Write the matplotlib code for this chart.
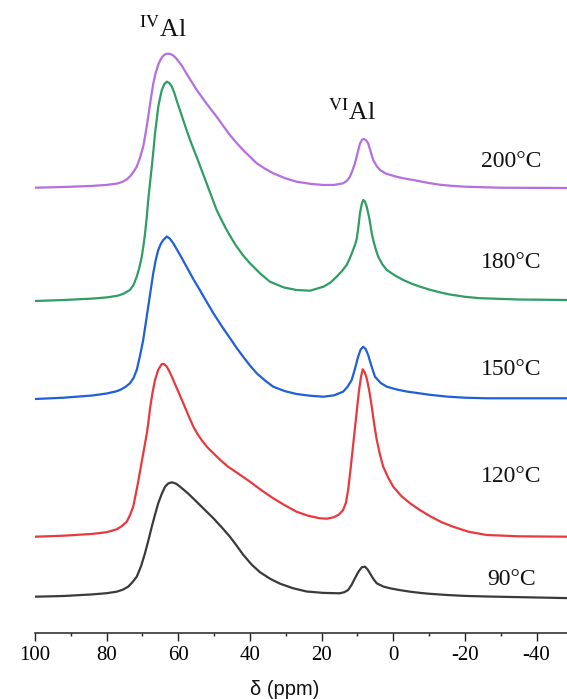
import matplotlib
matplotlib.use("Agg")
import matplotlib.pyplot as plt
from matplotlib.ticker import MultipleLocator

plt.rcParams['mathtext.fontset'] = 'stix'

# ---------------- data ----------------
temperatures = ["90°C", "120°C", "150°C", "180°C", "200°C"]
colors = ["#3a3a3a", "#e8393f", "#1f5fd8", "#2f9e62", "#b46fe0"]
offsets = [36.3, 96.3, 234.0, 332.0, 445.3]

ppm_90 = [100, 92, 84, 80, 77.2, 75.5, 74.0, 72.8, 71.6, 70.4, 69.3, 68.3, 67.4, 66.5,
          65.6, 64.6, 63.7, 62.8, 61.8, 60.6, 59.5, 57.2, 54.9, 52.5, 50.2, 47.9, 45.6,
          43.8, 41.9, 39.5, 37.2, 34.4, 31.6, 28, 24.2, 19.5, 14.9, 13.6, 12.6, 11.6,
          10.7, 9.7, 8.8, 7.9, 7.2, 6.5, 5.5, 4.6, 2.8, 0.9, -2, -4.7, -7.5, -10.2,
          -15, -20, -26.1, -48.5]
int_90 = [0, 0.7, 2.3, 3.5, 5, 7, 10, 14.5, 20, 30.5, 43.4, 57, 70, 82,
          93.4, 103, 110, 113.3, 114.4, 113, 110, 103, 95, 86.5, 78.4, 69.5, 60,
          51.5, 42, 32, 24.5, 18, 13, 8.5, 5.2, 3.8, 3.4, 4.6, 6.7, 12,
          18.4, 25, 29.4, 30, 27.5, 23.4, 17.5, 13.4, 10.2, 8.4, 6.5, 5, 3.8, 2.9,
          1.7, 0.8, 0.2, -1.4]

ppm_120 = [100, 92, 84, 80, 77.2, 75.8, 74.4, 73.5, 72.6, 71.9, 71.2, 70.5, 69.8, 69.3,
           68.8, 68.4, 67.9, 67.2, 66.5, 65.6, 64.6, 63.9, 63.2, 62.3, 61.4, 60.0, 58.6,
           57.2, 55.8, 54.6, 53.5, 51.9, 50.2, 48.2, 46.1, 43, 40.0, 36.8, 33.5, 30.2,
           27.0, 23.8, 20.5, 18.5, 16.7, 15.2, 14.0, 13.2, 12.6, 12.0, 11.4, 10.8, 10.2,
           9.6, 9.0, 8.5, 7.9, 7.3, 6.6, 6.0, 5.3, 4.6, 3.7, 2.8, 1.4, 0.0, -2.3, -4.7,
           -7.5, -10.2, -13.5, -16.7, -21, -26.1, -35, -48.5]
int_120 = [0, 1, 2.8, 4.5, 7.4, 10.5, 15, 21.5, 30, 42, 55, 69, 83, 93,
           103, 113, 128, 144, 156.7, 167, 172.7, 172.5, 170, 164, 156.7, 145, 133.4,
           121.5, 110, 102.5, 96.7, 89.5, 83.4, 76.5, 70, 62.5, 55, 46.5, 38.4, 31.3,
           25, 21, 18.4, 18, 19.4, 22, 26.7, 34, 46.7, 65, 85, 105, 125,
           145, 160, 167.4, 164, 156.7, 144, 130, 112, 96.7, 82, 70, 59, 50, 40.5, 33.4,
           26.5, 20.7, 14.5, 10, 5, 1.7, 0.4, 0]

ppm_150 = [100, 92, 84, 80, 77.5, 76.3, 74.8, 73.5, 72.5, 71.6, 70.7, 69.8, 69.1, 68.4,
           67.7, 67.0, 66.3, 65.6, 64.9, 64.2, 63.2, 62.4, 61.4, 59.5, 57.7, 55.9, 54.0,
           52.1, 50.2, 47.9, 45.6, 43.7, 41.9, 40, 38.1, 35.8, 33.5, 30.2, 27.0, 23, 19.5,
           16.5, 14.0, 12.8, 11.6, 10.7, 9.8, 9.1, 8.4, 7.7, 7.0, 6.0, 5.1, 3.5, 1.8, -1,
           -3.7, -7.5, -10.2, -15, -20, -26.1, -48.5]
int_150 = [0, 1.3, 3.5, 5.5, 7.5, 9, 12, 15.7, 21, 29, 43, 59, 75.5, 92.3,
           109, 125.7, 139, 149, 155, 159, 162.5, 160.5, 155.7, 144, 132.3, 120.5, 109,
           97.3, 85.7, 73, 61, 51, 42.3, 33.5, 25.7, 18.5, 12.3, 7.8, 5, 3.2, 2.3,
           3.7, 7.3, 12, 19, 30, 42.3, 49.5, 52.3, 50, 44, 32, 22.3, 16, 12.3, 9.5,
           7.5, 5.6, 4.2, 2.4, 1.3, 0.7, 0.7]

ppm_180 = [100, 92, 84, 80, 77, 75.5, 74.4, 73.5, 72.5, 71.6, 70.9, 70.2, 69.7, 69.3,
           68.8, 68.4, 67.9, 67.4, 66.9, 66.5, 66.0, 65.6, 65.1, 64.6, 63.9, 63.2, 62.5,
           61.8, 61.1, 60.5, 59.1, 57.7, 56.3, 54.9, 52.1, 49.3, 47.8, 46.5, 44.2, 42,
           40.0, 37, 34.4, 30.5, 27.0, 23.2, 19.5, 17.5, 15.8, 14.3, 13.0, 12.1, 11.2,
           10.6, 10.2, 9.7, 9.3, 8.8, 8.4, 7.9, 7.4, 6.7, 6.0, 5.6, 4.9, 4.2, 3.0, 1.8,
           -0.5, -2.8, -5, -7.5, -10.2, -13, -15.8, -20, -24.2, -35, -48.5]
int_180 = [0, 1, 2.4, 3.6, 5.2, 7, 9.2, 11, 16, 24.3, 33, 44.3, 56, 67,
           84, 101, 118, 134.3, 152, 167.7, 182, 194.3, 203, 211, 217, 219.3, 218,
           214.3, 208, 201, 186, 171, 157, 144.3, 117.7, 91, 80, 71, 57, 46,
           37.7, 27, 19.3, 13.5, 11, 10.3, 14.3, 18.5, 24.3, 30, 36, 43, 51,
           57, 62, 75, 87.7, 97, 101, 99.5, 94.3, 83, 67.7, 61, 52, 44.3, 36.5, 31,
           25.5, 21, 17.5, 14.3, 11.3, 8.7, 6.5, 4.2, 2.8, 1.5, 1]

ppm_200 = [100, 92, 84, 80, 77, 75.5, 74.3, 73.3, 72.4, 71.6, 70.7, 69.8, 69.1, 68.4,
           67.7, 67.0, 66.3, 65.6, 64.9, 64.2, 63.4, 62.5, 61.5, 60.5, 59.0, 57.7, 56.3,
           54.9, 52.1, 49.3, 47.5, 45.6, 43.8, 41.9, 40, 38.1, 35.8, 33.5, 30.2, 27.0,
           23, 19.5, 16.5, 14.0, 12.9, 12.1, 11.4, 10.7, 10.0, 9.3, 8.7, 8.2, 7.6, 7.0,
           6.3, 5.6, 4.6, 3.7, 2, -0.9, -3, -5.6, -8, -10.2, -13, -15.8, -20, -29.8, -48.5]
int_200 = [0, 0.7, 1.8, 2.8, 4.2, 6, 8.5, 12, 16.5, 21, 30, 41, 55, 71,
           88, 104, 115, 123, 128.5, 132, 133.8, 134, 132.5, 129, 122, 114, 106,
           98, 84, 71, 62, 52.7, 45, 37.7, 31, 24.4, 19, 14.4, 9.5, 6.0,
           3.8, 2.7, 2.8, 4.4, 7, 11, 17, 24.4, 34, 44, 48, 48.7, 47.5, 44.4,
           36, 27.7, 21.5, 17.7, 14, 11, 9.3, 7.7, 6, 4.5, 3, 2, 1, 0, -0.3]

ppm_series = [ppm_90, ppm_120, ppm_150, ppm_180, ppm_200]
int_series = [int_90, int_120, int_150, int_180, int_200]

# label positions (ppm, height)
label_ppm = -33
label_y = [48, 151, 258, 364.7, 466.3]
site_labels = [r"$^{\mathrm{IV}}$Al", r"$^{\mathrm{VI}}$Al"]
site_ppm = [64.3, 11.4]
site_y = [596.3, 513]

x_ticks = [100, 80, 60, 40, 20, 0, -20, -40]

# ---------------- figure ----------------
W, H = 567, 699
fig = plt.figure(figsize=(W / 100, H / 100), dpi=100)
ax = fig.add_axes([35 / W, (H - 633) / H, 532 / W, 633 / H])

for ppm, inten, off, col in zip(ppm_series, int_series, offsets, colors):
    ax.plot(ppm, [v + off for v in inten], color=col, lw=1.6,
            solid_joinstyle='round', solid_capstyle='round')

for t, y in zip(temperatures, label_y):
    ax.text(label_ppm, y, t, ha='center', va='baseline', fontsize=17,
            family='Liberation Serif', color='#111111')

for s, xp, yp in zip(site_labels, site_ppm, site_y):
    ax.text(xp, yp, s, ha='center', va='baseline', fontsize=18.5,
            family='Liberation Serif', color='#111111')

ax.set_xlim(100, -48.5)
ax.set_ylim(0, 633)
ax.set_xticks(x_ticks)
ax.set_xticklabels([str(v) for v in x_ticks], family='Liberation Serif', fontsize=15)
ax.xaxis.set_minor_locator(MultipleLocator(10))
ax.tick_params(axis='x', which='major', direction='out', length=6, width=1.0,
               pad=3.5, color='#222222')
ax.tick_params(axis='x', which='minor', direction='out', length=2.5, width=1.0,
               color='#222222')
ax.set_yticks([])
for side in ['left', 'right', 'top']:
    ax.spines[side].set_visible(False)
ax.spines['bottom'].set_linewidth(1.1)
ax.spines['bottom'].set_color('#222222')

fig.text(285 / W, 1 - 695 / H, "δ (ppm)", ha='center', va='baseline',
         fontsize=14.5, family='Liberation Sans', color='#111111')

fig.savefig("out.png", dpi=100)
